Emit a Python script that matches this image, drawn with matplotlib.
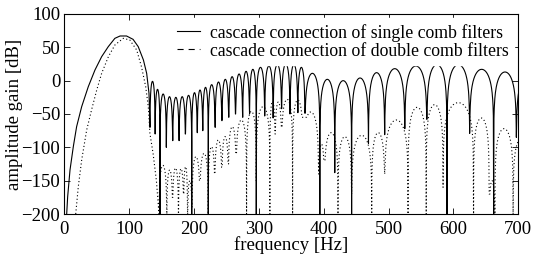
import numpy as np
import matplotlib
matplotlib.use('Agg')
import matplotlib.pyplot as plt

plt.rcParams['font.family'] = ['Liberation Serif', 'DejaVu Serif']

# main lobe (Hz, dB)
main_f_single = [3.7, 5.2, 8.8, 13.9, 19, 26.8, 37, 47.3, 57.6, 67.8, 78, 86, 96, 106, 114, 122, 127, 130.6, 132]
main_db_single = [-200, -174, -134, -99, -69, -39, -9, 16, 36, 51, 63.5, 67, 67, 62, 51, 31, 11, -19, -70]

main_f_double = [17.6, 21.6, 26.8, 34.5, 42, 50, 57.6, 68, 78, 91, 101, 111.6, 119, 125.5, 129.5, 132, 137, 142, 146]
main_db_double = [-200, -159, -119, -74, -44, -14, 11, 36, 53.5, 63.5, 61, 46, 21, -9, -39, -79, -110, -150, -200]

# side lobes: null frequencies, null depths, lobe peaks
nulls_single = [132, 140, 147.5, 157.3, 167.1, 176.9, 186.7, 196.5, 205, 213.5,
                222, 232.5, 243, 253.5, 264, 275, 285.5, 296, 309, 322,
                335, 348, 360, 371, 394, 417, 443, 469, 494, 525,
                559, 590, 625, 662, 697, 732]
depth_single = [-70, -80, -200, -100, -90, -90, -80, -200, -78, -75,
                -200, -70, -60, -55, -50, -55, -50, -200, -53, -56,
                -42, -50, -48, -49, -200, -138, -200, -94, -81, -72,
                -58, -200, -79, -200, -85, -60]
peaks_single = [-1, -13, -20, -24, -25, -24, -22, -18, -14, -10,
                -6, -2, 2, 6, 10, 14, 17, 20, 22, 24,
                25, 24, 20, 11, 2, 0, 4, 12, 18, 22,
                24, 24, 17, 13, 8]

nulls_double = [146, 158, 167, 176, 184, 190, 197, 209, 222,
                232, 243, 253, 265, 281, 296, 317, 325, 335, 352,
                368, 392, 401, 422, 443, 474, 494, 530, 558, 584,
                631, 655, 664, 692, 720]
depth_double = [-200, -200, -175, -200, -170, -200, -190, -150, -200,
                -140, -130, -125, -110, -200, -150, -200, -80, -70, -200,
                -55, -140, -120, -200, -170, -200, -140, -200, -200, -160,
                -200, -170, -200, -200, -120]
peaks_double = [-127, -134, -131, -132, -129, -150, -114, -109,
                -99, -89, -84, -69, -59, -46, -39, -31, -32, -28,
                -29, -47, -95, -78, -84, -82, -78, -59, -40, -36,
                -33, -56, -150, -72, -85]


def lobes(nulls, depth, peaks, sharp=50):
    xs, ys = [], []
    t = np.linspace(0, 1, 80)
    for i in range(len(peaks)):
        a, b = nulls[i], nulls[i + 1]
        with np.errstate(divide='ignore'):
            y = peaks[i] + sharp * np.log10(np.sin(np.pi * t))
        y = np.where(t < 0.5, np.maximum(y, depth[i]), np.maximum(y, depth[i + 1]))
        y[0], y[-1] = depth[i], depth[i + 1]
        xs.append(a + (b - a) * t)
        ys.append(y)
    return np.concatenate(xs), np.concatenate(ys)


xs, ys = lobes(nulls_single, depth_single, peaks_single)
xd, yd = lobes(nulls_double, depth_double, peaks_double)
x_single = np.concatenate([main_f_single, xs])
y_single = np.concatenate([main_db_single, ys])
x_double = np.concatenate([main_f_double, xd])
y_double = np.concatenate([main_db_double, yd])

fig = plt.figure(figsize=(5.34, 2.59), dpi=100)
ax = fig.add_axes([0.1204, 0.1737, 0.8502, 0.7723])

ax.plot(x_single, y_single, color='k', lw=0.8)
ax.plot(x_double, y_double, color='k', lw=0.8, linestyle=(0, (1, 2.2)))

# legend proxies
ax.plot([], [], color='k', lw=0.8, label='cascade connection of single comb filters')
ax.plot([], [], color='k', lw=0.8, dashes=(5.5, 4.5), label='cascade connection of double comb filters')
handles, labels = ax.get_legend_handles_labels()
leg = ax.legend(handles[-2:], labels[-2:], loc='upper right', fontsize=12.8,
                handlelength=1.3, handletextpad=0.55, labelspacing=0.05,
                borderaxespad=0.25, borderpad=0.3, frameon=True, fancybox=False)
leg.get_frame().set_edgecolor('white')
leg.get_frame().set_facecolor('white')
leg.get_frame().set_alpha(1)

ax.set_xlim(0, 700)
ax.set_ylim(-200, 100)
ax.set_xticks(np.arange(0, 701, 100))
ax.set_yticks(np.arange(-200, 101, 50))
ax.tick_params(direction='in', top=True, right=True, labelsize=13.5, length=4, width=0.6)
ax.tick_params(axis='x', pad=5)
ax.tick_params(axis='y', pad=3)
for s in ax.spines.values():
    s.set_linewidth(0.8)
ax.set_xlabel('frequency [Hz]', fontsize=13.5, labelpad=-1)
ax.set_ylabel('amplitude gain [dB]', fontsize=13.5, labelpad=-1.5)

plt.savefig('out.png', dpi=100)
plt.close()
